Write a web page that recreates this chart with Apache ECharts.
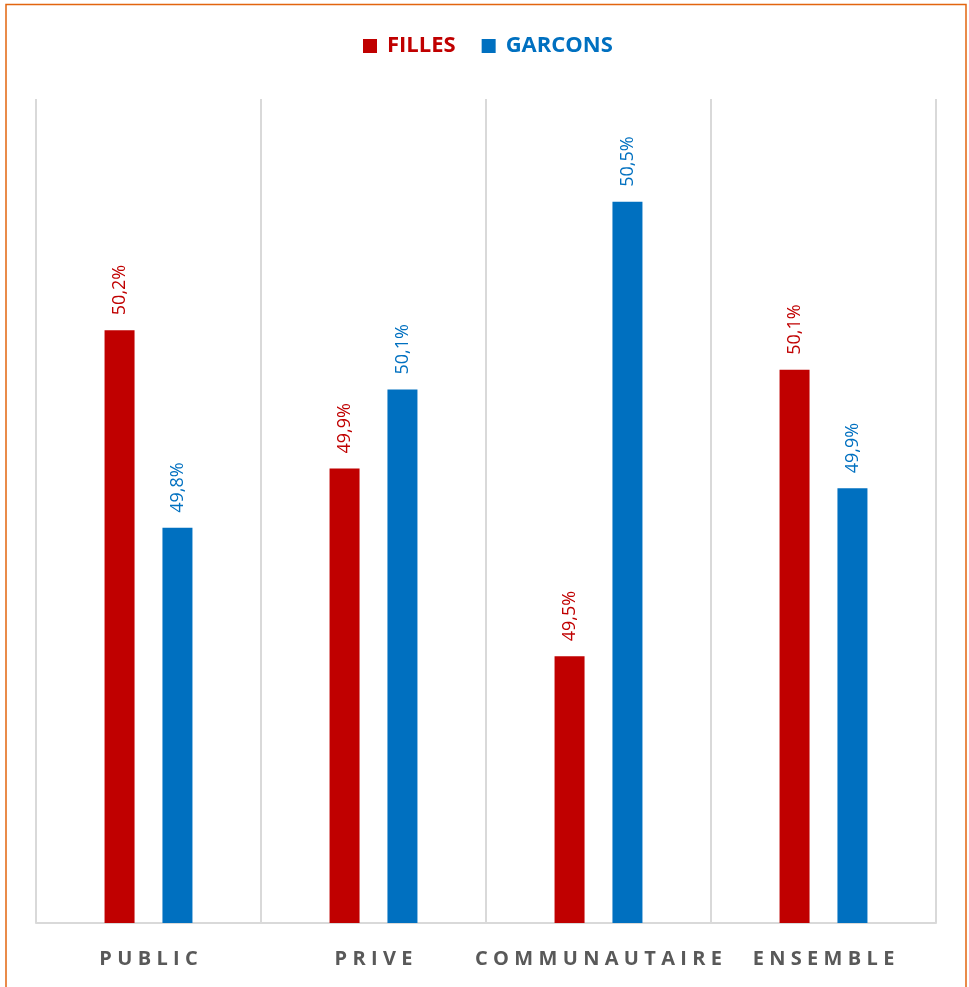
<!DOCTYPE html>
<html>
<head>
<meta charset="utf-8">
<script src="https://cdn.jsdelivr.net/npm/echarts@6/dist/echarts.min.js"></script>
<style>
  html, body { margin: 0; padding: 0; background: #ffffff; }
  #chart { width: 969px; height: 987px; }
</style>
</head>
<body>
<div id="chart"></div>
<script>
const categories = ['PUBLIC', 'PRIVE', 'COMMUNAUTAIRE', 'ENSEMBLE'];
const seriesNames = ['FILLES', 'GARCONS'];
const filles = [50.20, 49.92, 49.54, 50.12];
const garcons = [49.80, 50.08, 50.46, 49.88];
const colors = ['#C00000', '#0070C0'];

const chart = echarts.init(document.getElementById('chart'));

function pct(v) {
  return v.toFixed(1).replace('.', ',') + '%';
}
function spaced(s) {
  return s.split('').join('\u2009\u200A');
}
function barSeries(name, data, color) {
  return {
    name: name,
    type: 'bar',
    data: data,
    barWidth: 30,
    barGap: '93%',
    itemStyle: { color: color },
    label: {
      show: true,
      position: 'top',
      rotate: 90,
      align: 'left',
      verticalAlign: 'middle',
      distance: 15,
      color: color,
      fontFamily: 'Open Sans',
      fontSize: 18,
      formatter: p => pct(p.value)
    }
  };
}

chart.setOption({
  animation: false,
  backgroundColor: '#ffffff',
  graphic: [{
    type: 'rect',
    shape: { x: 6, y: 4.5, width: 960, height: 1000 },
    style: { fill: 'none', stroke: '#E2650F', lineWidth: 1.5 },
    silent: true
  }],
  legend: {
    top: 30,
    left: 358,
    padding: 5,
    itemWidth: 14,
    itemHeight: 14,
    itemGap: 26,
    icon: 'rect',
    textStyle: { fontFamily: 'Open Sans', fontWeight: 'bold', fontSize: 22, padding: [0, 0, 0, 5] },
    data: [
      { name: seriesNames[0], textStyle: { color: colors[0] } },
      { name: seriesNames[1], textStyle: { color: colors[1] } }
    ]
  },
  grid: { left: 36, right: 33, top: 99, bottom: 64 },
  xAxis: {
    type: 'category',
    data: categories,
    axisLine: { show: true, lineStyle: { color: '#D9D9D9', width: 2 } },
    axisTick: { show: false },
    splitLine: { show: true, interval: 0, lineStyle: { color: '#D9D9D9', width: 2 } },
    axisLabel: {
      interval: 0,
      margin: 26,
      color: '#595959',
      fontFamily: 'Open Sans',
      fontWeight: 'bold',
      fontSize: 20,
      formatter: v => spaced(v)
    }
  },
  yAxis: {
    type: 'value',
    min: 49,
    max: 50.668,
    show: false,
    splitLine: { show: false }
  },
  series: [
    barSeries(seriesNames[0], filles, colors[0]),
    barSeries(seriesNames[1], garcons, colors[1])
  ]
});
</script>
</body>
</html>
